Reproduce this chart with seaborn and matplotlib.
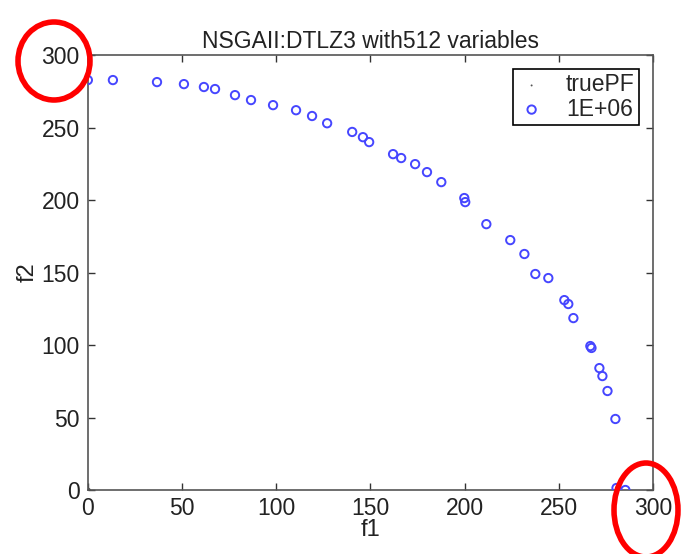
import matplotlib
matplotlib.use("Agg")
import matplotlib.pyplot as plt
from matplotlib.patches import Ellipse
import seaborn as sns
import pandas as pd

title = "NSGAII:DTLZ3 with512 variables"
x_ticks = [0, 50, 100, 150, 200, 250, 300]
y_ticks = [0, 50, 100, 150, 200, 250, 300]

true_f1 = [0.0, 0.5, 0.87, 1.0]
true_f2 = [1.0, 0.87, 0.5, 0.0]

sol_f1 = [0.0, 13.3, 36.7, 51.0, 61.6, 67.5, 78.1, 86.6, 98.3, 110.5, 119.0, 127.0,
          140.3, 146.0, 149.3, 162.0, 166.3, 173.7, 180.0, 187.6, 199.8, 200.3,
          211.5, 224.2, 231.7, 237.5, 244.4, 252.9, 255.0, 257.7, 266.7, 267.3,
          271.5, 273.1, 275.8, 280.0, 280.6, 285.3]
sol_f2 = [282.8, 282.8, 281.4, 280.0, 278.0, 276.6, 272.4, 269.0, 265.5, 262.0, 258.0, 253.0,
          247.0, 243.4, 240.0, 231.7, 229.0, 224.8, 219.3, 212.4, 201.4, 198.6,
          183.4, 172.4, 162.8, 149.0, 146.2, 131.0, 128.3, 118.6, 99.3, 98.0,
          84.1, 78.6, 68.3, 49.0, 1.4, 0.0]

sns.set_theme(style="white")
plt.rcParams['font.family'] = ['Liberation Sans', 'DejaVu Sans']

fig = plt.figure(figsize=(6.81, 5.54), dpi=100)
ax = fig.add_axes([0.129, 0.1155, 0.83, 0.785])

df_true = pd.DataFrame({"f1": true_f1, "f2": true_f2})
df_sol = pd.DataFrame({"f1": sol_f1, "f2": sol_f2})

sns.scatterplot(data=df_true, x="f1", y="f2", ax=ax, marker=".", s=8,
                color="#555555", edgecolor="none", label="truePF", zorder=3)
sns.scatterplot(data=df_sol, x="f1", y="f2", ax=ax, marker="o", s=36,
                facecolors="none", edgecolor="#4646ff", linewidth=1.4,
                label="1E+06", zorder=4)

ax.set_xlim(0, 300)
ax.set_ylim(0, 300)
ax.set_xticks(x_ticks)
ax.set_yticks(y_ticks)
ax.tick_params(direction="in", length=5, width=1, colors="#333333",
               labelsize=16.5, labelcolor="#222222", top=True, right=True,
               bottom=True, left=True, pad=6)
ax.tick_params(axis="x", pad=5)
for s in ax.spines.values():
    s.set_visible(True)
    s.set_color("#555555")
    s.set_linewidth(1.2)

ax.set_title(title, fontsize=16.5, color="#222222", pad=5)
ax.set_xlabel("f1", fontsize=17, color="#222222", labelpad=-1)
ax.set_ylabel("f2", fontsize=17, color="#222222", labelpad=2)

leg = ax.legend(loc="upper right", fontsize=16.5, frameon=True, fancybox=False,
                borderpad=0.2, handletextpad=0.9, labelspacing=0.05,
                handlelength=1.2, borderaxespad=0.6, markerfirst=True)
leg.get_frame().set_edgecolor("black")
leg.get_frame().set_linewidth(1.2)
leg.get_frame().set_alpha(1)

# red annotation ellipses (figure pixel coords)
W, H = 681, 554
def fig_ellipse(cx, cy, w, h):
    e = Ellipse((cx / W, 1 - cy / H), w / W, h / H, transform=fig.transFigure,
                fill=False, edgecolor="red", linewidth=4, zorder=10)
    fig.patches.append(e)

fig_ellipse(54, 61, 72, 78)
fig_ellipse(646, 510, 64, 94)

fig.savefig("out.png", dpi=100)
